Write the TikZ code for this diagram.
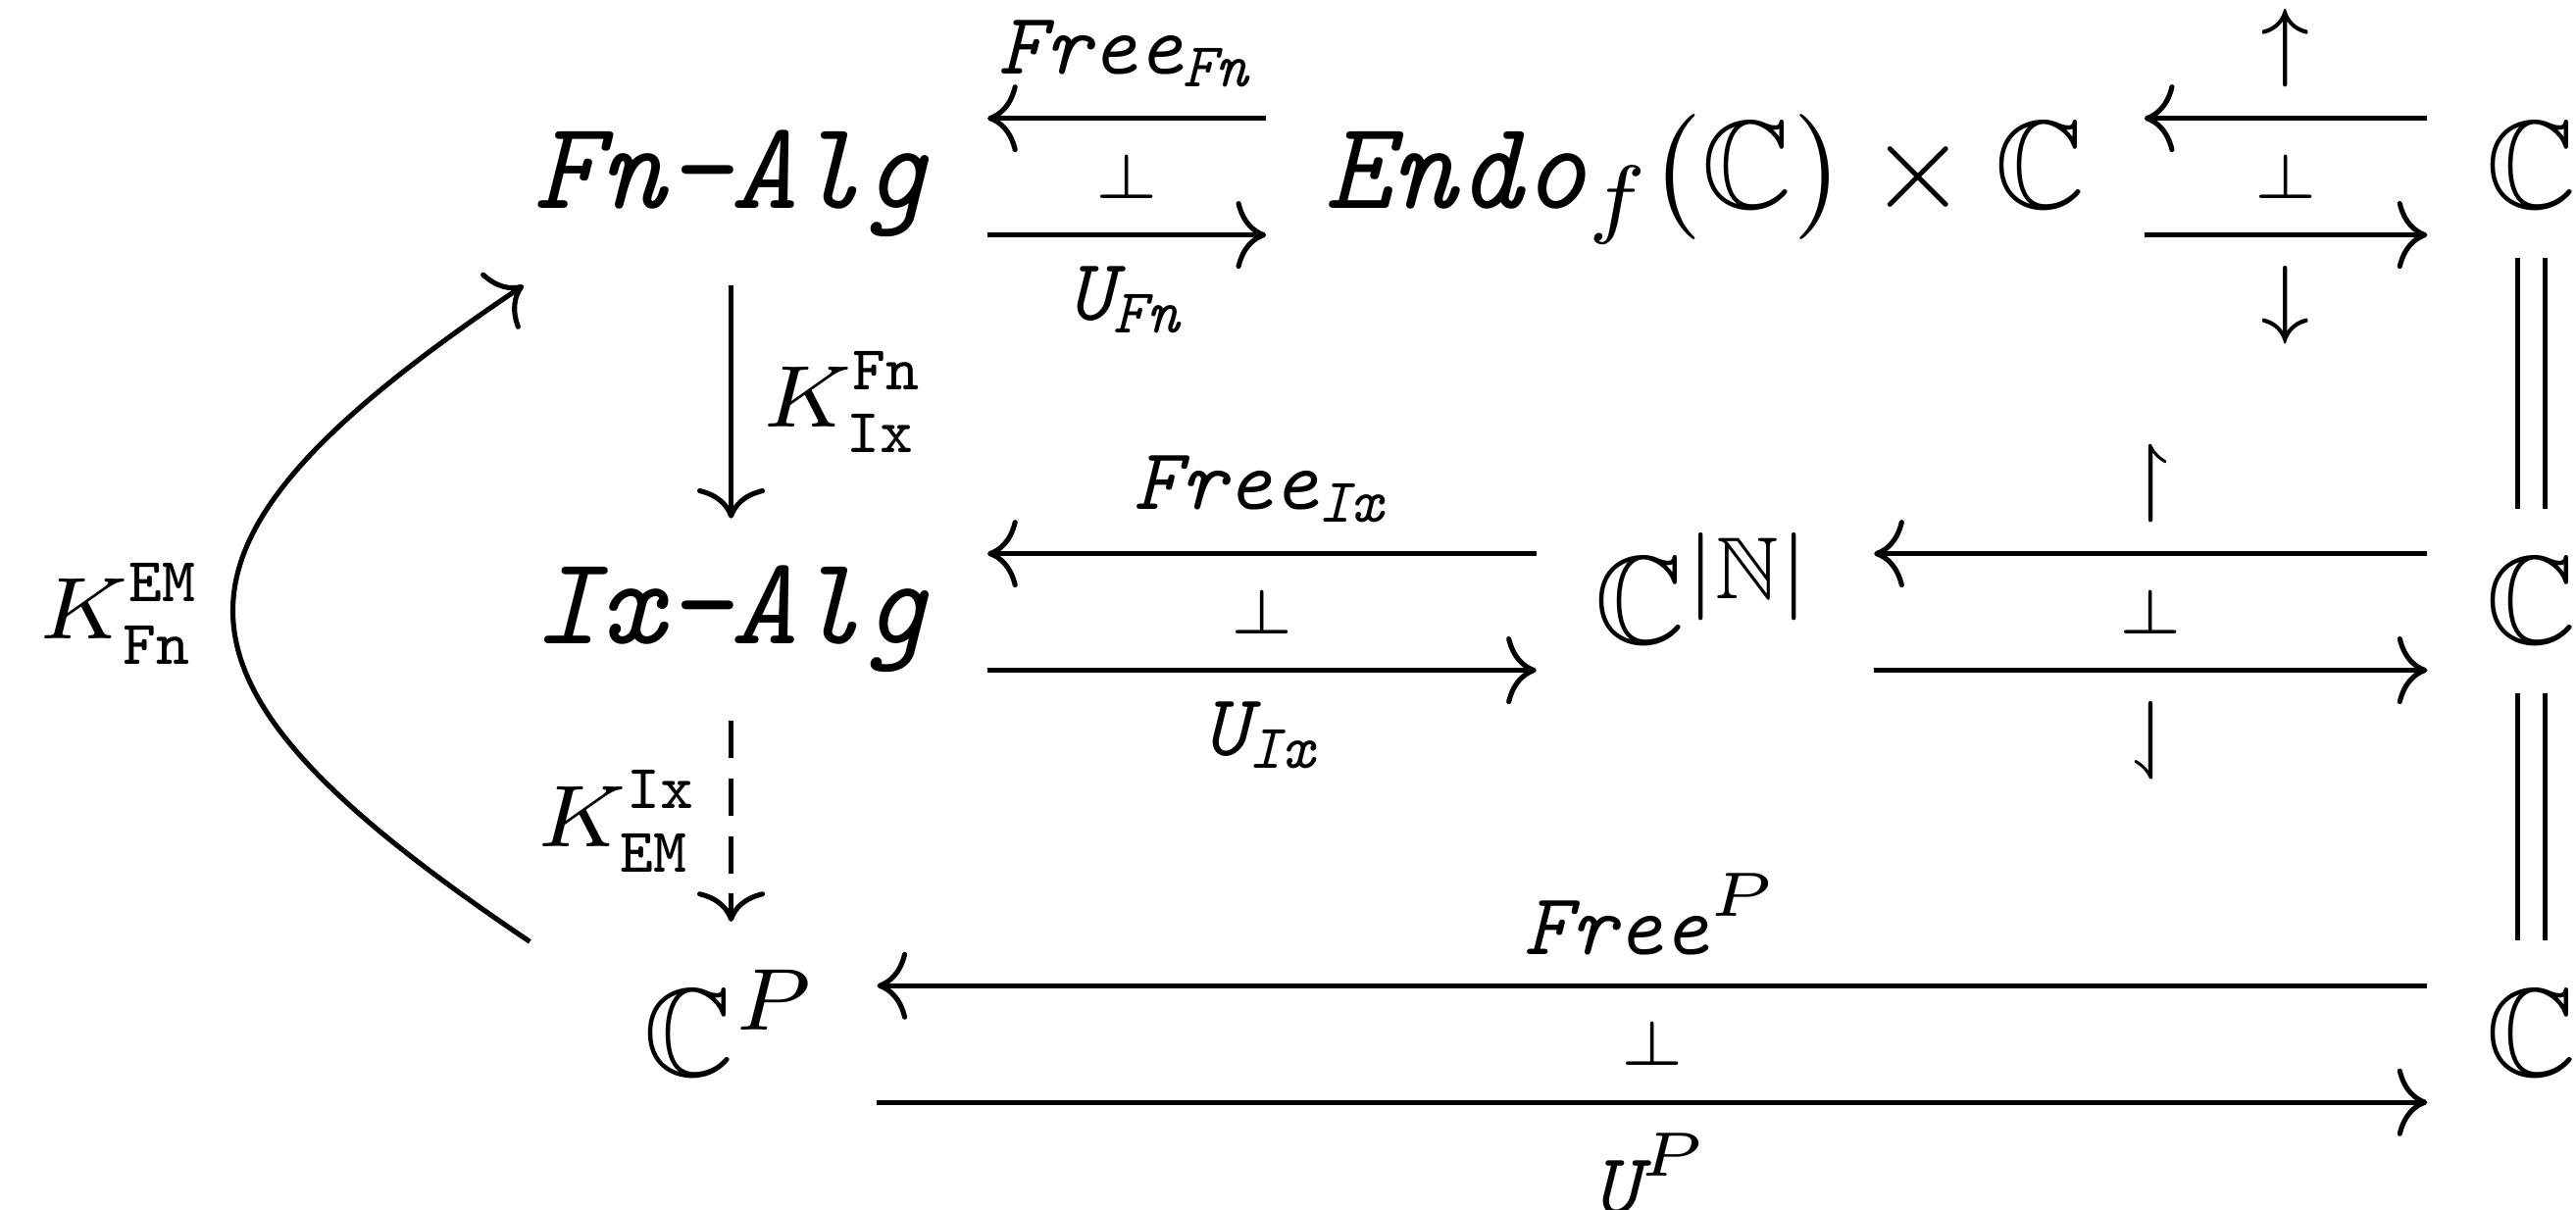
\documentclass[tikz,border=0pt]{standalone}
\usepackage{amsmath,amssymb}
\usetikzlibrary{arrows.meta}
\newcommand{\myitt}{\fontencoding{OT1}\fontfamily{cmtt}\fontseries{m}\fontshape{it}\selectfont}
\newcommand{\myTTI}[1]{\text{\myitt #1}}
\tikzset{
  obj/.style={anchor=base, inner xsep=4.5pt, inner ysep=3.7pt},
  arr/.style={line width=0.4pt, -{Computer Modern Rightarrow[length=2.4pt,width=5.4pt]}},
  dashpat/.style={dash pattern=on 3pt off 1.6pt},
  eqline/.style={line width=0.4pt, double, double distance=1.8pt},
  lab/.style={inner sep=2.3pt},
}
\begin{document}
\begin{tikzpicture}[x=0.131pt,y=-0.131pt]
\useasboundingbox (0,0) rectangle (1568,736);
% objects
\node[obj] (fnalg) at (445,127) {\myitt Fn-Alg};
\node[obj] (endo)  at (1038,127) {$\myTTI{Endo}_f(\mathbb{C})\times\mathbb{C}$};
\node[obj] (c1)    at (1541,127) {$\mathbb{C}$};
\node[obj] (ixalg) at (445,392) {\myitt Ix-Alg};
\node[obj] (cn)    at (1038,392) {$\mathbb{C}^{|\mathbb{N}|}$};
\node[obj] (c2)    at (1541,392) {$\mathbb{C}$};
\node[obj] (cp)    at (445,655) {$\mathbb{C}^{P}$};
\node[obj] (c3)    at (1541,655) {$\mathbb{C}$};
% row 1, left pair
\draw[arr] ([yshift=7.2pt]endo.base west) -- ([yshift=7.2pt]fnalg.base east)
  node[midway, above, lab] (l1) {$\scriptstyle\myTTI{Free}_{\myTTI{Fn}}$};
\draw[arr] ([yshift=-2.1pt]fnalg.base east) -- ([yshift=-2.1pt]endo.base west)
  node[midway, below, lab] (l2) {$\scriptstyle\myTTI{U}_{\myTTI{Fn}}$};
\path ([yshift=2.55pt]fnalg.base east) -- ([yshift=2.55pt]endo.base west)
  node[midway] (b1) {$\scriptscriptstyle\bot$};
% row 1, right pair
\draw[arr] ([yshift=7.2pt]c1.base west) -- ([yshift=7.2pt]endo.base east)
  node[midway, above, lab] (l3) {$\scriptstyle\uparrow$};
\draw[arr] ([yshift=-2.1pt]endo.base east) -- ([yshift=-2.1pt]c1.base west)
  node[midway, below, lab] (l4) {$\scriptstyle\downarrow$};
\path ([yshift=2.55pt]endo.base east) -- ([yshift=2.55pt]c1.base west)
  node[midway] (b2) {$\scriptscriptstyle\bot$};
% row 2, left pair
\draw[arr] ([yshift=7.2pt]cn.base west) -- ([yshift=7.2pt]ixalg.base east)
  node[midway, above, lab] (l5) {$\scriptstyle\myTTI{Free}_{\myTTI{Ix}}$};
\draw[arr] ([yshift=-2.1pt]ixalg.base east) -- ([yshift=-2.1pt]cn.base west)
  node[midway, below, lab] (l6) {$\scriptstyle\myTTI{U}_{\myTTI{Ix}}$};
\path ([yshift=2.55pt]ixalg.base east) -- ([yshift=2.55pt]cn.base west)
  node[midway] (b3) {$\scriptscriptstyle\bot$};
% row 2, right pair
\draw[arr] ([yshift=7.2pt]c2.base west) -- ([yshift=7.2pt]cn.base east)
  node[midway, above, lab] (l7) {$\scriptstyle\upharpoonright$};
\draw[arr] ([yshift=-2.1pt]cn.base east) -- ([yshift=-2.1pt]c2.base west)
  node[midway, below, lab] (l8) {$\scriptstyle\downharpoonleft$};
\path ([yshift=2.55pt]cn.base east) -- ([yshift=2.55pt]c2.base west)
  node[midway] (b4) {$\scriptscriptstyle\bot$};
% row 3
\draw[arr] ([yshift=7.2pt]c3.base west) -- ([yshift=7.2pt]cp.base east)
  node[midway, above, lab] (l9) {$\scriptstyle\myTTI{Free}^{P}$};
\draw[arr] ([yshift=-2.1pt]cp.base east) -- ([yshift=-2.1pt]c3.base west)
  node[midway, below, lab] (l10) {$\scriptstyle\myTTI{U}^{P}$};
\path ([yshift=2.55pt]cp.base east) -- ([yshift=2.55pt]c3.base west)
  node[midway] (b5) {$\scriptscriptstyle\bot$};
% verticals
\draw[arr] (fnalg) -- (ixalg)
  node[midway, right, lab] (k1) {$\scriptstyle K^{\mathtt{Fn}}_{\mathtt{Ix}}$};
\draw[arr, dashpat] (ixalg) -- (cp)
  node[midway, left, lab] (k2) {$\scriptstyle K^{\mathtt{Ix}}_{\mathtt{EM}}$};
\draw[eqline] (c1) -- (c2);
\draw[eqline] (c2) -- (c3);
% curved arrow
\draw[arr] ([xshift=-4.4pt,yshift=-1.6pt]cp.north west)
  .. controls +(-238,-160) and +(-238,160) .. ([xshift=3.9pt]fnalg.south west)
  node[pos=0.5, left, lab] (k3) {$\scriptstyle K^{\mathtt{EM}}_{\mathtt{Fn}}$};
\end{tikzpicture}
\end{document}
